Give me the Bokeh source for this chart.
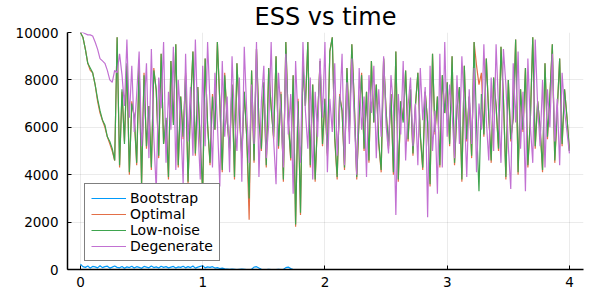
from bokeh.plotting import figure
from bokeh.models import Range1d, FixedTicker, Legend, LegendItem
from bokeh.embed import file_html
from bokeh.resources import INLINE

DT = 0.02

bootstrap = [220, 120, 90, 150, 60, 130, 110, 70, 160, 80, 120, 140, 60, 100, 150, 90, 70, 130, 50, 110,
             80, 140, 60, 120, 90, 50, 130, 100, 70, 150, 80, 110, 60, 140, 90, 120, 70, 100, 130, 60,
             110, 90, 140, 70, 120, 80, 150, 60, 100, 130, 160, 70, 110, 90, 120, 60, 80, 40, 60, 30,
             20, 10, 20, 10, 0, 10, 20, 10, 0, 0, 10, 100, 120, 60, 10, 0, 0, 10, 0, 0,
             0, 10, 0, 0, 80, 100, 40, 0]

optimal = [10000, 9800, 9300, 8700, 8400, 8300, 7800, 7100, 6600, 6300,
           6000, 5600, 5300, 5000, 4600, 9800, 4300, 7500, 5400, 8600,
           4000, 7100, 6400, 4400, 8600, 3500, 8300, 5100, 6900, 4200,
           8500, 7500, 4700, 9100, 5300, 6300, 3800, 8800, 6200, 9500,
           4300, 7300, 5500, 8300, 3600, 6900, 9200, 4800, 7700, 5300,
           3200, 8900, 6100, 4400, 7400, 5900, 9600, 7000, 4100, 8300,
           6300, 5000, 7800, 3800, 8700, 6500, 4700, 7500, 5600, 2100,
           8400, 4500, 9300, 6200, 5000, 7900, 4300, 8500, 6900, 5500,
           9000, 5100, 7500, 3700, 9600, 6300, 4600, 8200, 1800, 7200,
           2300, 8700, 6900, 9600, 4300, 7800, 3700, 6400, 8800, 5200,
           7200, 4800, 9200, 9800, 5500, 3800, 7400, 6700, 4200, 8500,
           5800, 9500, 7100, 3800, 6500, 8300, 5000, 7500, 4500, 8800,
           6200, 7800, 5300, 4100, 8900, 6700, 5100, 7400, 4000, 9200,
           3700, 7100, 6300, 8400, 5400, 7600, 4800, 6900, 8300, 5600,
           4200, 7500, 6200, 3500, 9100, 5700, 7300, 4300, 8200, 6600,
           7900, 5200, 9000, 4400, 6800, 7700, 3700, 8600, 5400, 7300,
           4700, 9600, 8600, 7800, 8300, 5600, 8900, 6500, 4500, 8100,
           6900, 5000, 9400, 7200, 3800, 8000, 5400, 6400, 9700, 4000,
           7600, 5800, 8500, 4300, 6300, 9800, 5100, 7100, 6000, 4100,
           8700, 5500, 7300, 9500, 4500, 6700, 8900, 5200, 7600, 6400,
           5000]

low_noise = [10000, 9800, 9300, 8700, 8500, 8300, 7800, 7200, 6700, 6300,
             6100, 5600, 5400, 5100, 4600, 9800, 4400, 7600, 5300, 8700,
             4100, 7000, 6500, 4500, 8600, 3600, 8200, 5200, 6900, 4300,
             8400, 7600, 4800, 9100, 5300, 6400, 3900, 8800, 6100, 9500,
             4400, 7300, 5600, 8200, 3700, 6800, 9200, 4900, 7700, 5400,
             3300, 8900, 6100, 4500, 7300, 5900, 9600, 7100, 4200, 8200,
             6300, 5100, 7800, 3900, 8700, 6600, 4800, 7500, 5600, 3000,
             8400, 4600, 9300, 6200, 5100, 7900, 4400, 8500, 6800, 5600,
             9000, 5200, 7400, 3800, 9600, 6300, 4700, 8200, 1900, 7100,
             2400, 8600, 6900, 9600, 4400, 7800, 3800, 6400, 8800, 5300,
             7200, 4900, 9200, 9800, 5600, 3900, 7300, 6700, 4300, 8500,
             5900, 9500, 7000, 3900, 6500, 8200, 5100, 7500, 4600, 8800,
             6200, 7800, 5400, 4200, 8900, 6700, 5200, 7400, 4100, 9200,
             3800, 7100, 6200, 8400, 5500, 7600, 4900, 6900, 8300, 5700,
             4300, 7500, 6200, 3600, 9100, 5800, 7300, 4400, 8200, 6600,
             7900, 5300, 9000, 4500, 6800, 7700, 3800, 8600, 5500, 7300,
             4800, 9600, 6100, 3300, 7400, 5700, 8900, 6500, 4600, 8100,
             6900, 5100, 9400, 7200, 3900, 8000, 5500, 6400, 9700, 4100,
             7600, 5900, 8500, 4400, 6300, 9800, 5200, 7100, 6000, 4200,
             8700, 5600, 7300, 9500, 4600, 6700, 8900, 5300, 7600, 6400,
             5000]

degenerate = [10000, 10000, 9950, 9900, 9900, 9850, 9600, 9300, 8900, 8800,
              8700, 8400, 8000, 7900, 8400, 8300, 9100, 8200, 6900, 9700,
              6400, 8600, 5800, 7400, 9200, 5200, 6700, 8700, 4700, 9300,
              5600, 3300, 8100, 6800, 9600, 4500, 7500, 5900, 9400, 4200,
              8000, 6300, 3600, 9100, 5400, 7700, 4800, 9700, 6100, 3800,
              8600, 5200, 9600, 7000, 4300, 8300, 6200, 3500, 8800, 5600,
              7300, 4100, 9000, 6400, 5000, 8100, 3700, 9400, 6700, 4500,
              7800, 5300, 9600, 3900, 7100, 8600, 4700, 6100, 9600, 5500,
              3600, 8300, 6600, 4300, 9100, 5700, 7400, 3200, 8800, 6200,
              4500, 9600, 6700, 5100, 8100, 3800, 7500, 5600, 8900, 6400,
              9600, 4100, 7200, 5800, 8700, 4800, 6700, 9100, 4400, 7900,
              5300, 8900, 6300, 4000, 8500, 5900, 7300, 3900, 8200, 6600,
              8600, 4700, 7600, 5600, 9000, 6100, 4900, 8200, 6900, 2300,
              7400, 5700, 8800, 4600, 6900, 8100, 5200, 7000, 4400, 8500,
              6300, 7700, 2200, 8600, 5000, 6700, 3200, 9100, 4300, 9600,
              5600, 7800, 6600, 4700, 8200, 5300, 9000, 6800, 3900, 7600,
              5300, 8500, 4100, 7000, 5900, 9500, 6300, 4600, 8100, 5000,
              9500, 6800, 4500, 9300, 7800, 5200, 3400, 8700, 6200, 9200,
              5100, 7500, 3300, 8900, 6100, 4500, 9700, 6900, 5200, 8000,
              4300, 7600, 6000, 9100, 5400, 7200, 4400, 8300, 6700, 5800,
              4900]

series_names = ["Bootstrap", "Optimal", "Low-noise", "Degenerate"]
series_values = [bootstrap, optimal, low_noise, degenerate]
series_colors = ["#009AFA", "#E36F47", "#3EA44E", "#C271D2"]

x_ticks = [0, 1, 2, 3, 4]
y_ticks = [0, 2000, 4000, 6000, 8000, 10000]

FONT = "DejaVu Sans"

p = figure(width=598, height=299, output_backend="svg", toolbar_location=None,
           x_range=Range1d(-0.106, 4.115), y_range=Range1d(0, 10000),
           title="ESS vs time", min_border_left=67, min_border_right=15,
           min_border_top=32, min_border_bottom=30)

p.title.text_font = FONT
p.title.text_font_size = "24px"
p.title.text_font_style = "normal"
p.title.align = "center"
p.title.vertical_align = "top"
p.title.text_color = "black"
p.title.standoff = 0
p.title.offset = 0

items = []
for name, vals, col in zip(series_names, series_values, series_colors):
    t = [i * DT for i in range(len(vals))]
    r = p.line(t, vals, line_color=col, line_width=1.2)
    items.append(LegendItem(label=name, renderers=[r]))

legend = Legend(items=items, location=(17, 8), label_text_font=FONT,
                label_text_font_size="14px", label_text_color="black",
                glyph_width=35, glyph_height=16, label_height=16, label_width=83,
                spacing=0, padding=6, label_standoff=4, margin=0,
                border_line_color="black", border_line_width=1,
                background_fill_color="white", background_fill_alpha=1)
p.add_layout(legend, "center")

p.outline_line_color = None
for ax in (p.xaxis, p.yaxis):
    ax.axis_line_color = "black"
    ax.axis_line_width = 1.5
    ax.major_tick_in = 4
    ax.major_tick_out = 0
    ax.major_tick_line_color = "black"
    ax.minor_tick_line_color = None
    ax.major_label_text_font = FONT
    ax.major_label_text_font_size = "13.5px"
    ax.major_label_text_color = "black"
p.xaxis.major_label_standoff = 7
p.yaxis.major_label_standoff = 9
p.xaxis.ticker = FixedTicker(ticks=x_ticks)
p.yaxis.ticker = FixedTicker(ticks=y_ticks)

p.xgrid.ticker = FixedTicker(ticks=x_ticks)
p.ygrid.ticker = FixedTicker(ticks=y_ticks)
p.grid.grid_line_color = "black"
p.grid.grid_line_alpha = 0.08
p.grid.grid_line_width = 1

open("out.html", "w").write(file_html(p, INLINE))
